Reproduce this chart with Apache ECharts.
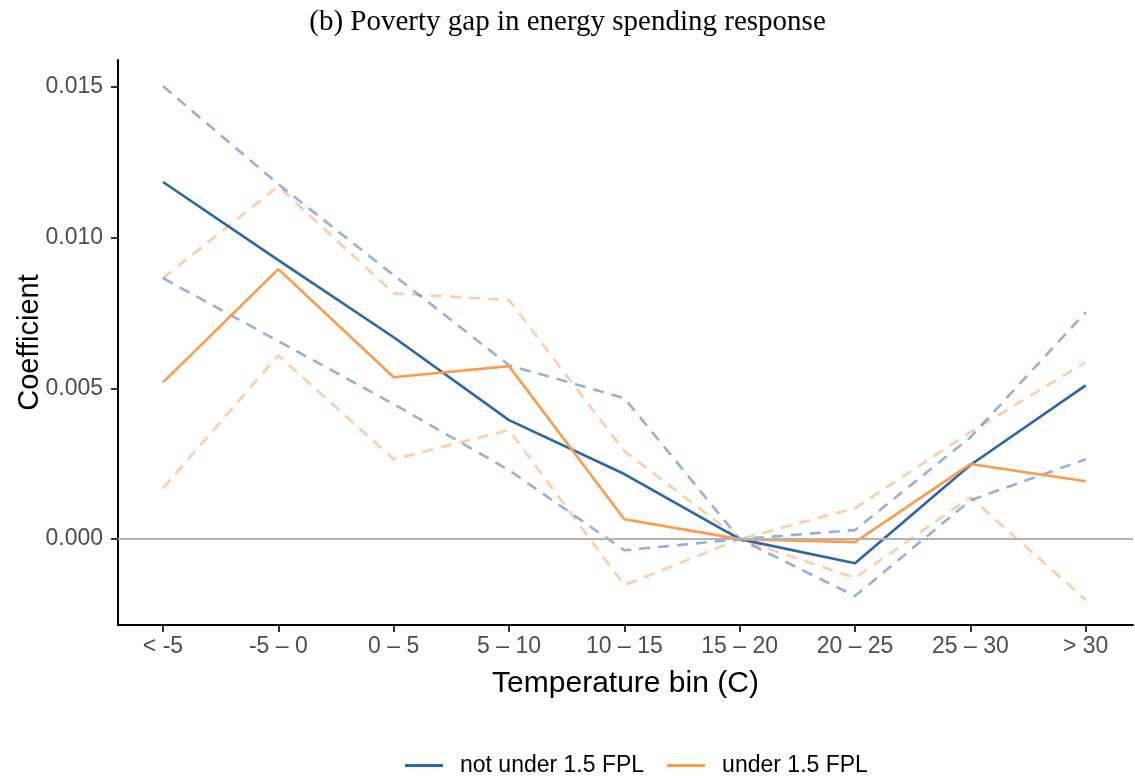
<!DOCTYPE html>
<html>
<head>
<meta charset="utf-8">
<script src="https://cdn.jsdelivr.net/npm/echarts@6/dist/echarts.min.js"></script>
<style>
html,body{margin:0;padding:0;background:#fff;}
#chart{width:1135px;height:776px;}
</style>
</head>
<body>
<div id="chart"></div>
<script>
const categories = ['< -5', '-5 – 0', '0 – 5', '5 – 10', '10 – 15', '15 – 20', '20 – 25', '25 – 30', '> 30'];
const notUnder = [0.01185, 0.00926, 0.0067, 0.00395, 0.00216, 0, -0.0008, 0.00246, 0.0051];
const notUnderHigh = [0.01503, 0.01178, 0.00876, 0.00577, 0.00468, 0, 0.0003, 0.00338, 0.00753];
const notUnderLow = [0.00866, 0.00657, 0.00448, 0.00229, -0.00037, 0, -0.00189, 0.00129, 0.00265];
const under = [0.0052, 0.00896, 0.00537, 0.00574, 0.00066, 0, -0.0001, 0.00249, 0.00192];
const underHigh = [0.00866, 0.01171, 0.00816, 0.00793, 0.00292, 0, 0.00103, 0.00355, 0.00587];
const underLow = [0.00169, 0.0061, 0.00265, 0.00362, -0.00153, 0, -0.00129, 0.00139, -0.00202];
const yTicks = [0, 0.005, 0.010, 0.015];

const BLUE = '#2a66ab';
const ORANGE = '#fd9b48';
const pts = arr => arr.map((v, i) => [i, v]);
const sans = 'Liberation Sans, Arial, sans-serif';

function line(name, data, color, dashed, extra) {
  return Object.assign({
    name: name,
    type: 'line',
    data: pts(data),
    symbol: 'none',
    silent: true,
    lineStyle: {color: color, width: 2.6, type: dashed ? [11, 8] : 'solid', opacity: dashed ? 0.5 : 1},
    itemStyle: {color: color},
    z: dashed ? 2 : 3
  }, extra || {});
}

const chart = echarts.init(document.getElementById('chart'), null, {renderer: 'canvas'});
chart.setOption({
  animation: false,
  backgroundColor: '#fff',
  title: {
    text: '(b) Poverty gap in energy spending response',
    left: 'center',
    top: 3,
    textStyle: {fontFamily: 'Liberation Serif, serif', fontWeight: 'normal', fontSize: 29, color: '#000'}
  },
  grid: {left: 118, right: 2, top: 60, bottom: 151, containLabel: false, outerBoundsMode: 'none'},
  legend: {
    data: ['not under 1.5 FPL', 'under 1.5 FPL'],
    left: 400,
    top: 749,
    itemWidth: 38,
    itemHeight: 3,
    itemGap: 23,
    icon: 'rect',
    textStyle: {fontFamily: sans, fontSize: 23, color: '#000', padding: [0, 0, 0, 12]}
  },
  xAxis: {
    type: 'value',
    min: -0.39,
    max: 8.41,
    name: 'Temperature bin (C)',
    nameLocation: 'middle',
    nameGap: 44,
    nameMoveOverlap: false,
    nameTextStyle: {fontFamily: sans, fontSize: 30, color: '#000', verticalAlign: 'top'},
    axisLine: {onZero: false, lineStyle: {color: '#000', width: 2}},
    axisTick: {show: true, length: 7, lineStyle: {color: '#333', width: 2}, customValues: categories.map((c, i) => i)},
    axisLabel: {
      customValues: categories.map((c, i) => i),
      formatter: v => categories[Math.round(v)],
      fontFamily: sans, fontSize: 23, color: '#4d4d4d', margin: 10
    },
    splitLine: {show: false}
  },
  yAxis: {
    type: 'value',
    min: -0.00285,
    max: 0.0159,
    name: 'Coefficient',
    nameLocation: 'middle',
    nameRotate: 90,
    nameGap: 88,
    nameMoveOverlap: false,
    nameTextStyle: {fontFamily: sans, fontSize: 29, color: '#000', verticalAlign: 'middle'},
    axisLine: {show: true, onZero: false, lineStyle: {color: '#000', width: 2}},
    axisTick: {show: true, length: 7, lineStyle: {color: '#333', width: 2}, customValues: yTicks},
    axisLabel: {
      customValues: yTicks,
      formatter: v => v.toFixed(3),
      fontFamily: sans, fontSize: 23, color: '#4d4d4d', margin: 15
    },
    splitLine: {show: false}
  },
  series: [
    line('ul', underLow, ORANGE, true, {
      z: 1,
      markLine: {
        silent: true,
        symbol: 'none',
        label: {show: false},
        lineStyle: {color: '#b3b3b3', width: 2.2, type: 'solid', opacity: 1},
        data: [{yAxis: 0}]
      }
    }),
    line('uh', underHigh, ORANGE, true),
    line('nl', notUnderLow, BLUE, true),
    line('nh', notUnderHigh, BLUE, true),
    line('not under 1.5 FPL', notUnder, BLUE, false),
    line('under 1.5 FPL', under, ORANGE, false)
  ]
});
</script>
</body>
</html>
